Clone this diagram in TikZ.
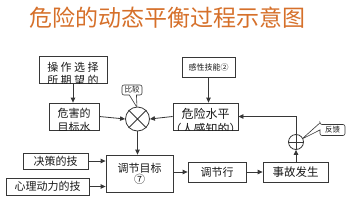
\documentclass[tikz,border=0pt]{standalone}
\usepackage{fontspec}
\newfontfamily\cjk{Noto Sans CJK SC}
\usetikzlibrary{arrows.meta,shapes.callouts}
\definecolor{titleor}{RGB}{214,112,42}
\definecolor{ln}{RGB}{55,55,55}
\definecolor{tx}{RGB}{25,25,25}
\begin{document}
\begin{tikzpicture}[x=1pt,y=-1pt,
  box/.style={draw=ln,line width=0.8pt,inner sep=0pt,text=tx,font=\cjk\fontsize{11}{12}\selectfont},
  txt/.style={inner sep=0pt,text=tx,align=center,font=\cjk\fontsize{11}{12.5}\selectfont},
  arr/.style={draw=ln,line width=0.8pt,-{Triangle[length=5pt,width=4.5pt]}},
  ln/.style={draw=ln,line width=0.8pt},
  call/.style={rectangle callout,rounded corners=2pt,draw=ln,line width=0.6pt,inner sep=0pt,text=tx,font=\cjk\fontsize{7.5}{8}\selectfont}]
\useasboundingbox[fill=white] (0,0) rectangle (350,209);
% title
\node[inner sep=0pt,text=titleor,font=\cjk\fontsize{23}{24}\selectfont] (title) at (167.5,18) {危险的动态平衡过程示意图};
% boxes
\node[box,minimum width=68pt,minimum height=27pt] (b1) at (73,69.5) {};
\begin{scope}\clip (b1.south west) rectangle (b1.north east);
\node[txt,font=\cjk\fontsize{11}{12.5}\selectfont] (b1t) at (73,74) {操\hspace{2.5pt}作\hspace{2.5pt}选\hspace{2.5pt}择\\所\hspace{2.5pt}期\hspace{2.5pt}望\hspace{2.5pt}的};
\end{scope}
\node[box,minimum width=50pt,minimum height=27pt] (b2) at (74,116.5) {};
\begin{scope}\clip (b2.south west) rectangle (b2.north east);
\node[txt,font=\cjk\fontsize{11}{14}\selectfont] (b2t) at (74,120) {危害的\\目标水};
\end{scope}
\node[box,minimum width=65pt,minimum height=27pt] (risk) at (205.5,116.5) {};
\begin{scope}\clip (risk.south west) rectangle (risk.north east);
\node[txt,font=\cjk\fontsize{12}{15}\selectfont] (riskt) at (205.5,121.5) {危险水平\\（人感知的）};
\end{scope}
\node[box,minimum width=53pt,minimum height=20pt,font=\cjk\fontsize{8}{9}\selectfont] (perc) at (208.5,67) {感性技能②};
\node[box,minimum width=67pt,minimum height=37pt,align=center,font=\cjk\fontsize{11}{11}\selectfont] (goal) at (139.5,173.5) {调节目标\\⑦};
\node[box,minimum width=65pt,minimum height=16pt] (dec) at (55.5,161) {决策的技};
\node[box,minimum width=83pt,minimum height=17pt] (psy) at (47.5,186.5) {心理动力的技};
\node[box,minimum width=58pt,minimum height=20pt] (act) at (217,172) {调节行};
\node[box,minimum width=65pt,minimum height=20pt,font=\cjk\fontsize{11.5}{12}\selectfont] (acc) at (295.5,172) {事故发生};
% comparator
\node[circle,draw=ln,line width=0.8pt,minimum size=24pt,inner sep=0pt] (cmp) at (137.5,119) {};
\draw[ln] (cmp.north east) -- (cmp.south west) (cmp.north west) -- (cmp.south east);
\node[circle,draw=ln,line width=0.8pt,minimum size=15pt,inner sep=0pt] (plus) at (296,142) {};
\draw[ln] (plus.north) -- (plus.south) (plus.west) -- (plus.east);
% callouts
\node[call,minimum width=20pt,minimum height=10pt,callout absolute pointer={(137,107.5)}] (cmpc) at (132,90) {比较};
\node[call,minimum width=25pt,minimum height=11pt,callout absolute pointer={(302,139)}] (fbc) at (332.5,130) {反馈};
% connectors
\draw[arr] (b1.south) -- (b1.south |- b2.north);
\draw[arr] (b2.east) -- (cmp.west);
\draw[arr] (risk.west) -- (cmp.east);
\draw[arr] (perc.south) -- (perc.south |- risk.north);
\draw[arr] (cmp.south) -- (cmp.south |- goal.north);
\draw[arr] (dec.east) -- (dec.east -| goal.west);
\draw[arr] (psy.east) -- (psy.east -| goal.west);
\draw[arr] (goal.east |- act.west) -- (act.west);
\draw[arr] (act.east) -- (acc.west);
\draw[arr] (acc.north -| plus.south) -- (plus.south);
\draw[arr] (plus.north) |- (risk.east);
\end{tikzpicture}
\end{document}
